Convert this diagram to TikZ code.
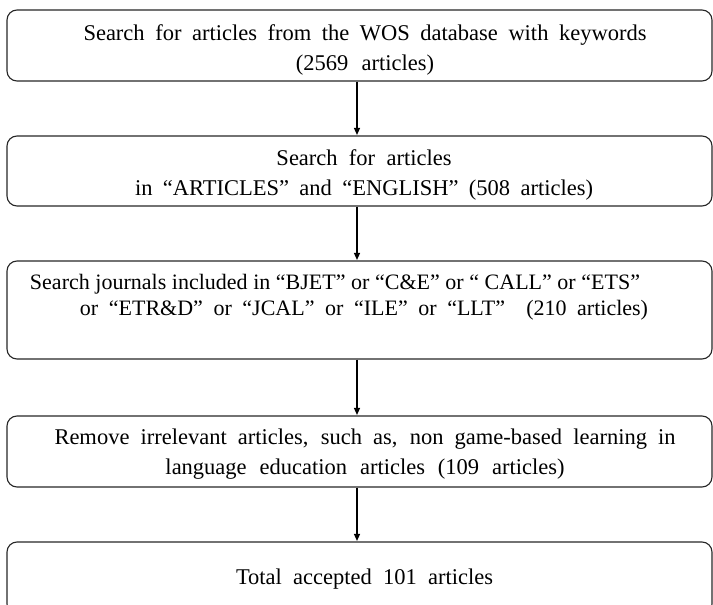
\documentclass[tikz,border=0pt]{standalone}
\usepackage{fontspec}
\setmainfont{Liberation Serif}
\usetikzlibrary{arrows.meta}
% a line of text set to a given width by stretching its word spaces
\newcommand{\spreadline}[2]{\makebox[#1][s]{#2}}
\begin{document}
\begin{tikzpicture}[x=1pt,y=-1pt,
  box/.style={draw=black!85, line width=1.1pt, rounded corners=10pt, minimum width=705pt, inner sep=0pt},
  txt/.style={align=center, inner sep=0pt, font=\fontsize{22.5}{30}\selectfont},
  flow/.style={-{Triangle[length=7pt,width=6pt]}, line width=1.3pt, shorten >=0.5pt}]
\useasboundingbox (0,0) rectangle (713,605);
\begin{scope}
\clip (0,0) rectangle (713,605);
% process boxes
\node[box, minimum height=71pt] (b1) at (359.5,45.5) {};
\node[box, minimum height=70pt] (b2) at (359.5,171) {};
\node[box, minimum height=98pt] (b3) at (359.5,310) {};
\node[box, minimum height=71pt] (b4) at (359.5,451.5) {};
\node[box, minimum height=72pt] (b5) at (359.5,578) {};
% texts
\node[txt] (t1) at (365,50) {\spreadline{563pt}{Search for articles from the WOS database with keywords}\\\spreadline{138pt}{(2569 articles)}};
\node[txt] (t2) at (364,175) {\spreadline{175pt}{Search for articles}\\\spreadline{458pt}{in “ARTICLES” and “ENGLISH” (508 articles)}};
\node[txt, align=left, font=\fontsize{22}{26}\selectfont] (t3) at (339,297) {\spreadline{610pt}{Search journals included in “BJET” or “C\&E” or “ CALL” or “ETS”}\\\hspace*{50pt}\spreadline{568pt}{or “ETR\&D” or “JCAL” or “ILE” or “LLT”~~(210 articles)}};
\node[txt] (t4) at (365,454) {\spreadline{621pt}{Remove irrelevant articles, such as, non game-based learning in}\\\spreadline{399pt}{language education articles (109 articles)}};
\node[txt] (t5) at (364.5,579) {\spreadline{257pt}{Total accepted 101 articles}};
\end{scope}
% connectors
\draw[flow] (b1.south -| 357,0) -- (b2.north -| 357,0);
\draw[flow] (b2.south -| 357,0) -- (b3.north -| 357,0);
\draw[flow] (b3.south -| 357,0) -- (b4.north -| 357,0);
\draw[flow] (b4.south -| 357,0) -- (b5.north -| 357,0);
\end{tikzpicture}
\end{document}
